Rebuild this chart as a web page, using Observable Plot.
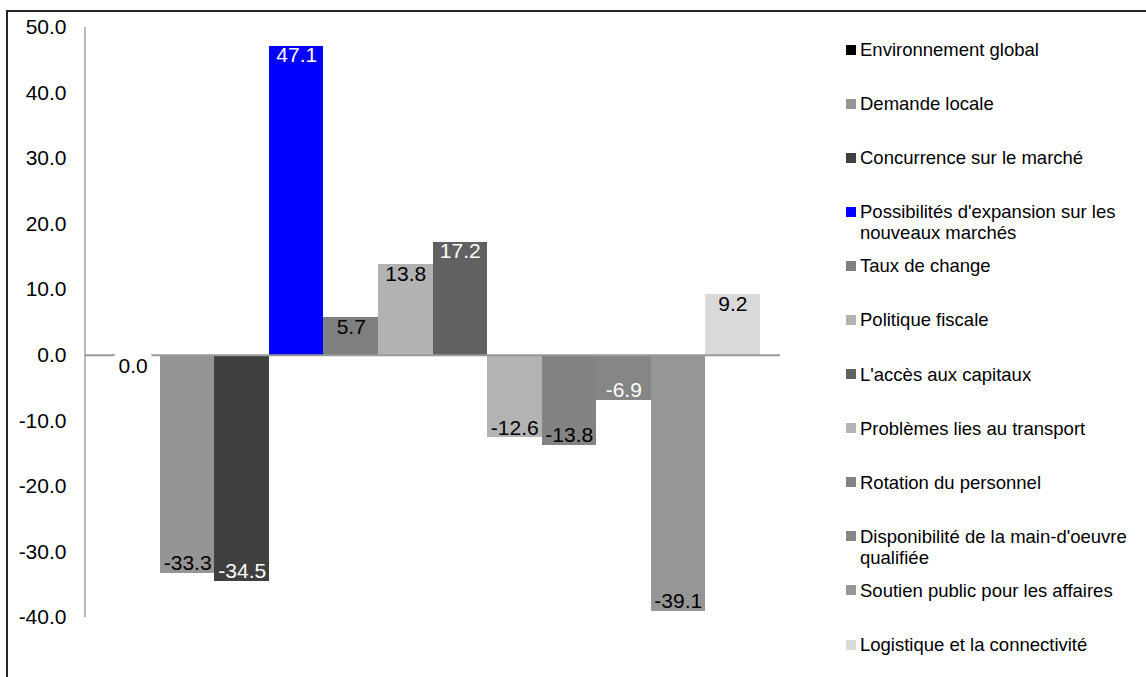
<!DOCTYPE html>
<html lang="fr">
<head>
<meta charset="utf-8">
<script src="https://cdn.jsdelivr.net/npm/d3@7"></script>
<script src="https://cdn.jsdelivr.net/npm/@observablehq/plot@0.6"></script>
<style>
  html, body { margin: 0; padding: 0; background: #fff; overflow: hidden; }
  body { width: 1146px; height: 677px; position: relative; font-family: "Liberation Sans", Arial, sans-serif; }
  #chart { position: absolute; left: 0; top: 0; }
  #border { position: absolute; left: 6px; top: 10px; width: 2000px; height: 2000px;
            border-left: 2px solid #262626; border-top: 2px solid #262626; pointer-events: none; }
  #legend { position: absolute; left: 846px; top: 39px; }
  .item { height: 54.1px; display: flex; align-items: flex-start; }
  .swatch { width: 10px; height: 10px; margin-top: 5.5px; margin-right: 4px; flex: none; }
  .label { width: 285px; font-size: 18.5px; line-height: 21px; color: #000; }
</style>
</head>
<body>
<div id="chart"></div>
<div id="border"></div>
<div id="legend"></div>
<script>
// Factors and their net balance (%)
const categories = [
  "Environnement global",
  "Demande locale",
  "Concurrence sur le marché",
  "Possibilités d'expansion sur les nouveaux marchés",
  "Taux de change",
  "Politique fiscale",
  "L'accès aux capitaux",
  "Problèmes lies au transport",
  "Rotation du personnel",
  "Disponibilité de la main-d'oeuvre qualifiée",
  "Soutien public pour les affaires",
  "Logistique et la connectivité"
];
const values = [0.0, -33.3, -34.5, 47.1, 5.7, 13.8, 17.2, -12.6, -13.8, -6.9, -39.1, 9.2];
const yTicks = [-40, -30, -20, -10, 0, 10, 20, 30, 40, 50];

// Fill per factor, and the colour of the value printed on each bar
const barColors = ["#000000", "#959595", "#404040", "#0000ff", "#7f7f7f", "#b2b2b2",
                   "#616161", "#b3b3b3", "#838383", "#868686", "#969696", "#d9d9d9"];
const labelColors = ["#000", "#000", "#fff", "#fff", "#000", "#000",
                     "#fff", "#000", "#000", "#fff", "#000", "#000"];

const data = categories.map((name, i) => ({
  name, value: values[i], color: barColors[i], labelColor: labelColors[i]
}));

// one decimal, plain hyphen for negatives
const fmt = v => v.toFixed(1);
const font = "'Liberation Sans', Arial, sans-serif";

// Vertical axis line drawn from the y scale's extent
const axisLine = (index, scales, values, dims) => {
  const [y0, y1] = d3.extent(yTicks).map(scales.y);
  return d3.create("svg:line")
    .attr("x1", dims.marginLeft).attr("x2", dims.marginLeft)
    .attr("y1", y0).attr("y2", y1)
    .attr("stroke", "#a0a0a0").attr("stroke-width", 1.5)
    .node();
};

const chart = Plot.plot({
  width: 1146,
  height: 677,
  marginLeft: 85,
  marginRight: 366,
  marginTop: 27,
  marginBottom: 60,
  style: { fontFamily: font, fontSize: "21px", color: "#000", background: "transparent", overflow: "visible" },
  x: { domain: categories, paddingInner: 0, paddingOuter: 0.375, round: false, axis: null },
  y: { domain: [-40, 50], axis: null },
  color: { type: "identity" },
  marks: [
    Plot.barY(data, { x: "name", y: "value", fill: "color", shapeRendering: "crispEdges" }),
    Plot.ruleY([0], { stroke: "#999999", strokeWidth: 2 }),
    axisLine,
    Plot.axisY({ ticks: yTicks, tickFormat: fmt, tickSize: 0, tickPadding: 19, fontSize: 21, label: null }),
    // zero value sits on a white box that interrupts the baseline
    Plot.text(data.filter(d => d.value === 0), {
      x: "name", y: "value", text: d => fmt(d.value), dy: 11,
      fill: "labelColor", stroke: "white", strokeWidth: 16, strokeLinejoin: "miter",
      paintOrder: "stroke", fontSize: 21
    }),
    Plot.text(data.filter(d => d.value > 0), {
      x: "name", y: "value", text: d => fmt(d.value), dy: 9, fill: "labelColor", fontSize: 21
    }),
    Plot.text(data.filter(d => d.value < 0), {
      x: "name", y: "value", text: d => fmt(d.value), dy: -10, fill: "labelColor", fontSize: 21
    })
  ]
});
document.getElementById("chart").appendChild(chart);

// Legend, one row per factor
const legend = d3.select("#legend");
const items = legend.selectAll("div.item").data(data).join("div").attr("class", "item");
items.append("div").attr("class", "swatch").style("background", d => d.color);
items.append("div").attr("class", "label").text(d => d.name);
</script>
</body>
</html>
